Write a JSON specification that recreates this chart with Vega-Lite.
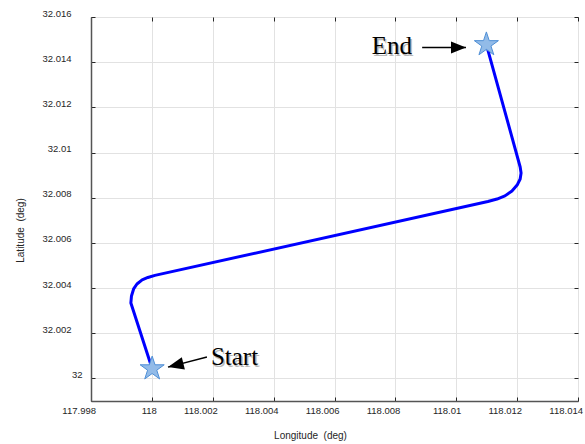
{
  "$schema": "https://vega.github.io/schema/vega-lite/v6.json",
  "width": 487,
  "height": 384,
  "autosize": "none",
  "padding": {"left": 91, "top": 17, "right": 7, "bottom": 43},
  "background": "white",
  "config": {
    "view": {"stroke": "#4d4d4d", "strokeWidth": 1},
    "axis": {
      "labelFont": "Liberation Sans",
      "labelFontSize": 9.5,
      "labelColor": "#262626",
      "titleFont": "Liberation Sans",
      "titleFontSize": 10,
      "titleFontWeight": "normal",
      "titleColor": "#262626",
      "tickColor": "#262626",
      "tickSize": -4,
      "domainColor": "#555555",
      "domainWidth": 1.5,
      "gridColor": "#e2e2e2",
      "gridWidth": 1,
      "labelOverlap": false,
      "labelFlush": false,
      "labelBound": false
    }
  },
  "datasets": {
    "track": [
      {"seq": 1, "lon": 118.00001, "lat": 32.00043},
      {"seq": 2, "lon": 117.99931, "lat": 32.00334},
      {"seq": 3, "lon": 117.99933, "lat": 32.00365},
      {"seq": 4, "lon": 117.9994, "lat": 32.00396},
      {"seq": 5, "lon": 117.99951, "lat": 32.00418},
      {"seq": 6, "lon": 117.99968, "lat": 32.00436},
      {"seq": 7, "lon": 117.99987, "lat": 32.00447},
      {"seq": 8, "lon": 118.0001, "lat": 32.00456},
      {"seq": 9, "lon": 118.01104, "lat": 32.00783},
      {"seq": 10, "lon": 118.01134, "lat": 32.00794},
      {"seq": 11, "lon": 118.0116, "lat": 32.00808},
      {"seq": 12, "lon": 118.01183, "lat": 32.0083},
      {"seq": 13, "lon": 118.012, "lat": 32.00856},
      {"seq": 14, "lon": 118.0121, "lat": 32.00883},
      {"seq": 15, "lon": 118.01213, "lat": 32.00909},
      {"seq": 16, "lon": 118.0121, "lat": 32.00936},
      {"seq": 17, "lon": 118.01099, "lat": 32.01478}
    ],
    "ends": [
      {"label": "Start", "lon": 118.00001, "lat": 32.00043},
      {"label": "End", "lon": 118.01099, "lat": 32.01478}
    ],
    "arrows": [
      {"label": "Start", "lon": 118.00181, "lat": 32.00095, "lon2": 118.00053, "lat2": 32.0005},
      {"label": "End", "lon": 118.00888, "lat": 32.01465, "lon2": 118.01032, "lat2": 32.01465}
    ],
    "notes": [
      {"label": "Start", "lon": 118.00194, "lat": 32.00059},
      {"label": "End", "lon": 118.00722, "lat": 32.01435}
    ]
  },
  "layer": [
    {
      "data": {"name": "track"},
      "mark": {"type": "line", "color": "#0000ff", "strokeWidth": 3, "strokeJoin": "round", "strokeCap": "round"},
      "encoding": {
        "x": {
          "field": "lon", "type": "quantitative",
          "scale": {"domain": [117.998, 118.014], "nice": false, "zero": false},
          "axis": {
            "orient": "bottom",
            "values": [117.998, 118, 118.002, 118.004, 118.006, 118.008, 118.01, 118.012, 118.014],
            "format": ".3~f",
            "labelAlign": "right",
            "labelOffset": 4.5,
            "labelPadding": 8,
            "grid": true,
            "title": "Longitude \u00a0(deg)",
            "titleX": 219,
            "titleY": 34,
            "titleBaseline": "middle",
            "titleAlign": "center"
          }
        },
        "y": {
          "field": "lat", "type": "quantitative",
          "scale": {"domain": [31.999, 32.016], "nice": false, "zero": false},
          "axis": {
            "orient": "left",
            "values": [32, 32.002, 32.004, 32.006, 32.008, 32.01, 32.012, 32.014, 32.016],
            "format": ".3~f",
            "labelOffset": -4,
            "labelPadding": {"condition": {"test": "datum.value == 32", "value": 13}, "value": 24},
            "grid": true,
            "title": "Latitude \u00a0(deg)",
            "titleX": -71,
            "titleY": 213,
            "titleBaseline": "middle",
            "titleAlign": "center"
          }
        },
        "order": {"field": "seq", "type": "quantitative"}
      }
    },
    {
      "data": {"name": "arrows"},
      "mark": {"type": "rule", "color": "#000000", "strokeWidth": 1.5},
      "encoding": {
        "x": {"field": "lon", "type": "quantitative", "axis": null},
        "y": {"field": "lat", "type": "quantitative", "axis": null},
        "x2": {"field": "lon2"},
        "y2": {"field": "lat2"}
      }
    },
    {
      "data": {"name": "arrows"},
      "transform": [{"filter": "datum.label == 'Start'"}],
      "mark": {"type": "point", "shape": "M0,0L-1,-0.4L-1,0.4Z", "size": 1000, "filled": true, "color": "#000000", "opacity": 1, "angle": 166},
      "encoding": {
        "x": {"field": "lon2", "type": "quantitative", "axis": null},
        "y": {"field": "lat2", "type": "quantitative", "axis": null}
      }
    },
    {
      "data": {"name": "arrows"},
      "transform": [{"filter": "datum.label == 'End'"}],
      "mark": {"type": "point", "shape": "M0,0L-1,-0.4L-1,0.4Z", "size": 900, "filled": true, "color": "#000000", "opacity": 1, "angle": 0},
      "encoding": {
        "x": {"field": "lon2", "type": "quantitative", "axis": null},
        "y": {"field": "lat2", "type": "quantitative", "axis": null}
      }
    },
    {
      "data": {"name": "ends"},
      "mark": {"type": "point", "shape": "M0,-1L0.225,-0.309L0.951,-0.309L0.363,0.118L0.588,0.809L0,0.382L-0.588,0.809L-0.363,0.118L-0.951,-0.309L-0.225,-0.309Z", "size": 640, "filled": true, "fill": "#92bbe8", "stroke": "#4f8fd6", "strokeWidth": 1, "opacity": 1},
      "encoding": {
        "x": {
          "field": "lon", "type": "quantitative",
          "axis": {"orient": "top", "values": [117.998, 118, 118.002, 118.004, 118.006, 118.008, 118.01, 118.012, 118.014], "labels": false, "grid": false, "domain": false, "title": null}
        },
        "y": {
          "field": "lat", "type": "quantitative",
          "axis": {"orient": "right", "values": [32, 32.002, 32.004, 32.006, 32.008, 32.01, 32.012, 32.014, 32.016], "labels": false, "grid": false, "domain": false, "title": null}
        }
      }
    },
    {
      "data": {"name": "notes"},
      "mark": {"type": "text", "font": "Liberation Serif", "fontSize": 25, "align": "left", "baseline": "alphabetic", "color": "#8a8a8a", "opacity": 0.6, "dx": 1.5, "dy": 1.5},
      "encoding": {
        "x": {"field": "lon", "type": "quantitative", "axis": null},
        "y": {"field": "lat", "type": "quantitative", "axis": null},
        "text": {"field": "label"}
      }
    },
    {
      "data": {"name": "notes"},
      "mark": {"type": "text", "font": "Liberation Serif", "fontSize": 25, "align": "left", "baseline": "alphabetic", "color": "#000000"},
      "encoding": {
        "x": {"field": "lon", "type": "quantitative", "axis": null},
        "y": {"field": "lat", "type": "quantitative", "axis": null},
        "text": {"field": "label"}
      }
    }
  ],
  "resolve": {"axis": {"x": "independent", "y": "independent"}}
}
